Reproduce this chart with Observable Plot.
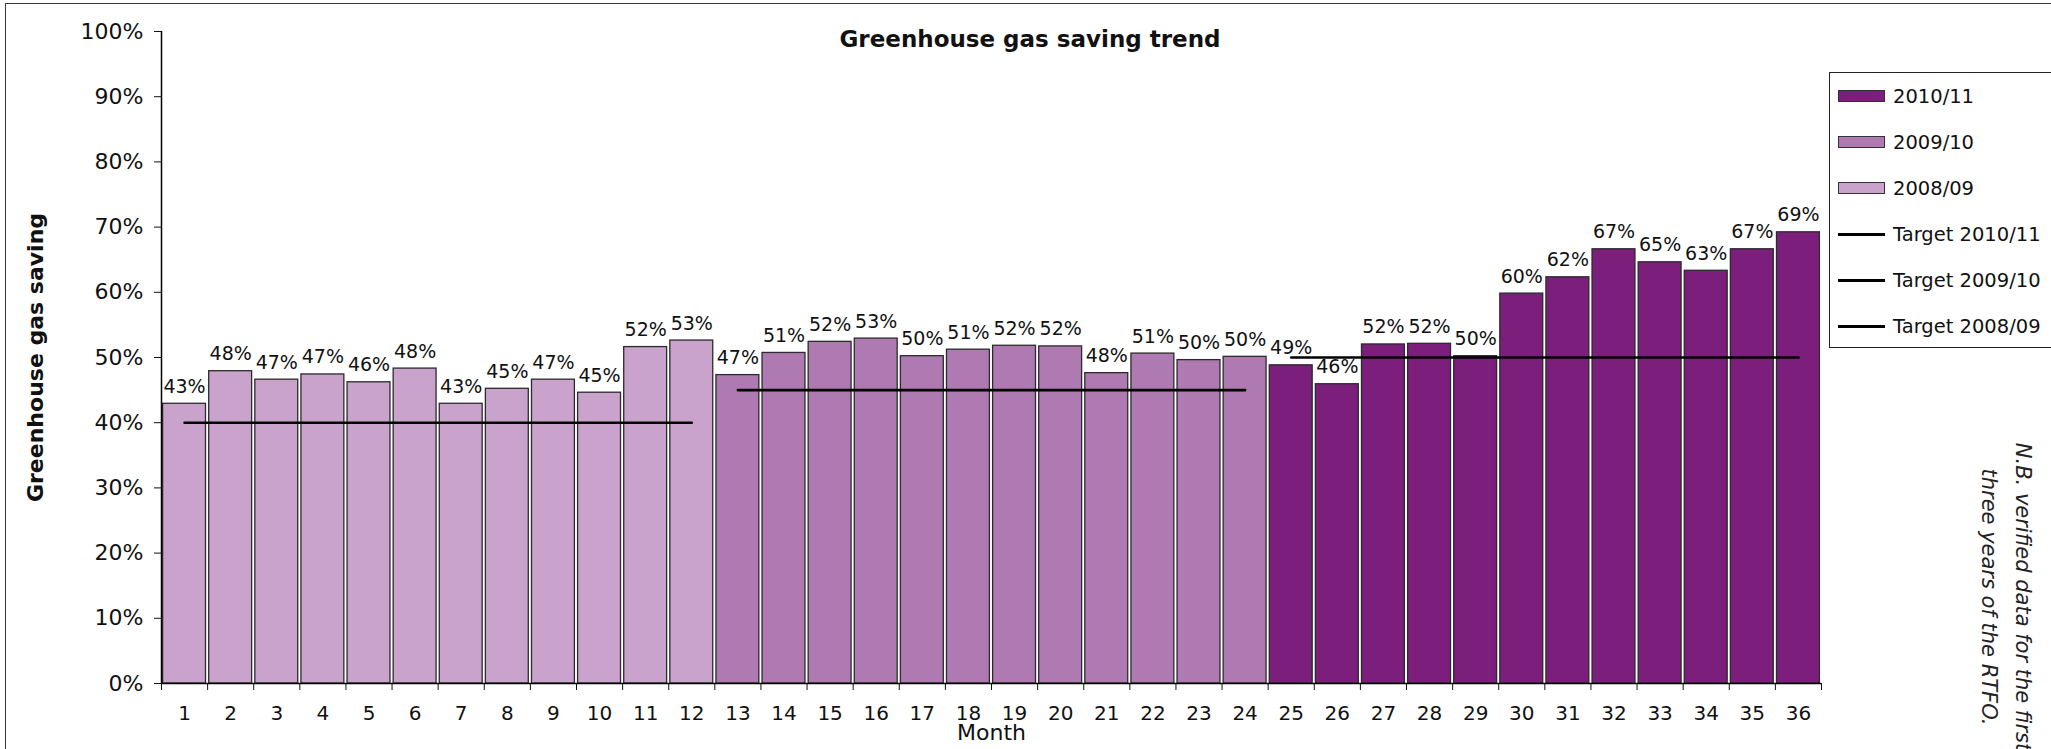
<!DOCTYPE html>
<html>
<head>
<meta charset="utf-8">
<script src="https://cdn.jsdelivr.net/npm/d3@7"></script>
<script src="https://cdn.jsdelivr.net/npm/@observablehq/plot@0.6"></script>
<style>
  html, body { margin: 0; padding: 0; background: #fff; overflow: hidden; }
  #wrap { position: relative; width: 2051px; height: 749px; overflow: hidden;
          font-family: "DejaVu Sans", Verdana, sans-serif; color: #111; }
  #chart { position: absolute; left: 0; top: 0; }
  #border { position: absolute; left: 5px; top: 3px; width: 2100px; height: 800px;
            border: 1.5px solid #3a3a3a; box-sizing: border-box; }
  #title { position: absolute; left: 0; top: 28px; width: 2060px; text-align: center;
           font-weight: bold; font-size: 23px; line-height: 23px; }
  #legend { position: absolute; left: 1829px; top: 72px; width: 260px; height: 276px;
            border: 1.5px solid #222; box-sizing: border-box; background: #fff; }
  .row { height: 46px; display: flex; align-items: center; padding-left: 8px;
         font-size: 19.5px; white-space: nowrap; }
  .sw { width: 45px; height: 10px; border: 1.5px solid #333; margin-right: 8px; flex: none; }
  .ln { width: 47px; height: 3px; background: #000; margin-right: 8px; flex: none; }
  #note { position: absolute; left: 1806px; top: 563px; width: 400px; height: 68px;
          line-height: 34px; text-align: center; font-style: italic; font-size: 21px;
          color: #222; white-space: pre; transform: rotate(90deg); transform-origin: 50% 50%; }
</style>
</head>
<body>
<div id="wrap">
  <div id="chart"></div>
  <div id="border"></div>
  <div id="title"></div>
  <div id="legend"></div>
  <div id="note"></div>
</div>
<script>
// ---- data ----
const title = "Greenhouse gas saving trend";
const yLabel = "Greenhouse gas saving";
const xLabel = "Month";
const noteLines = ["N.B. verified data for the first", "three years of the RTFO."];
const months = [1,2,3,4,5,6,7,8,9,10,11,12,13,14,15,16,17,18,19,20,21,22,23,24,25,26,27,28,29,30,31,32,33,34,35,36];
const seasons = ["2008/09", "2009/10", "2010/11"];
const seasonColors = ["#c9a3cc", "#af79b2", "#7b1e7c"];
const saving0809 = [0.429, 0.479, 0.466, 0.474, 0.462, 0.483, 0.429, 0.452, 0.466, 0.446, 0.516, 0.526];
const saving0910 = [0.473, 0.507, 0.524, 0.529, 0.502, 0.512, 0.518, 0.517, 0.476, 0.506, 0.496, 0.501];
const saving1011 = [0.488, 0.459, 0.520, 0.521, 0.502, 0.598, 0.623, 0.666, 0.646, 0.633, 0.666, 0.692];
const targets = [0.40, 0.45, 0.50];
const targetStart = [1, 13, 25];
const targetEnd = [12, 24, 36];
const yTicks = [0, 0.1, 0.2, 0.3, 0.4, 0.5, 0.6, 0.7, 0.8, 0.9, 1.0];
const legendOrder = ["2010/11", "2009/10", "2008/09"];
const targetLegend = ["Target 2010/11", "Target 2009/10", "Target 2008/09"];

// ---- build tables ----
const seriesArrays = [saving0809, saving0910, saving1011];
const data = [];
seriesArrays.forEach((arr, i) => arr.forEach((v, j) => {
  data.push({month: months[i * 12 + j], season: seasons[i], value: v});
}));
const targetData = seasons.flatMap((s, i) => [
  {season: s, month: targetStart[i], value: targets[i]},
  {season: s, month: targetEnd[i], value: targets[i]}
]);
const xMin = months[0] - 0.5, xMax = months[months.length - 1] + 0.5;
const boundaries = [...months.map(m => m - 0.5), xMax];
const pct = d3.format(".0%");

const chart = Plot.plot({
  width: 2051,
  height: 749,
  marginLeft: 161,
  marginRight: 230,
  marginTop: 31,
  marginBottom: 66,
  style: {fontFamily: "DejaVu Sans, Verdana, sans-serif", fontSize: "20px", color: "#111", background: "transparent", overflow: "visible"},
  x: {type: "linear", domain: [xMin, xMax]},
  y: {domain: [0, 1]},
  color: {domain: seasons, range: seasonColors},
  marks: [
    Plot.rectY(data, {x1: d => d.month - 0.5, x2: d => d.month + 0.5, y: "value", fill: "season",
                      stroke: "#2b2b2b", strokeWidth: 1.3, insetLeft: 1.6, insetRight: 1.6}),
    Plot.line(targetData, {x: "month", y: "value", z: "season", stroke: "#000", strokeWidth: 2.6}),
    Plot.text(data, {x: "month", y: "value", text: d => pct(d.value), lineAnchor: "bottom", dy: -11, fontSize: 19, fill: "#111"}),
    Plot.ruleY([0], {stroke: "#000", strokeWidth: 1.5}),
    Plot.ruleX([xMin], {stroke: "#000", strokeWidth: 1.5}),
    Plot.axisY({ticks: yTicks, tickFormat: pct, tickSize: 7, tickPadding: 11, fontSize: 22, label: null}),
    Plot.axisX({ticks: boundaries, tickFormat: () => "", tickSize: 7, label: null}),
    Plot.axisX({ticks: months, tickFormat: d => String(d), tickSize: 0, tickPadding: 22, label: null}),
    Plot.text([yLabel], {frameAnchor: "left", textAnchor: "middle", rotate: -90, dx: -126, fontWeight: "bold", fontSize: 22, fill: "#111"}),
    Plot.text([xLabel], {frameAnchor: "bottom", dy: 56, fontSize: 22, fill: "#111"})
  ]
});
document.getElementById("chart").appendChild(chart);

document.getElementById("title").textContent = title;
document.getElementById("note").textContent = noteLines.join("\n");

const legend = document.getElementById("legend");
legendOrder.forEach(s => {
  const row = document.createElement("div");
  row.className = "row";
  const sw = document.createElement("span");
  sw.className = "sw";
  sw.style.background = seasonColors[seasons.indexOf(s)];
  row.appendChild(sw);
  row.appendChild(document.createTextNode(s));
  legend.appendChild(row);
});
targetLegend.forEach(t => {
  const row = document.createElement("div");
  row.className = "row";
  const ln = document.createElement("span");
  ln.className = "ln";
  row.appendChild(ln);
  row.appendChild(document.createTextNode(t));
  legend.appendChild(row);
});
</script>
</body>
</html>
